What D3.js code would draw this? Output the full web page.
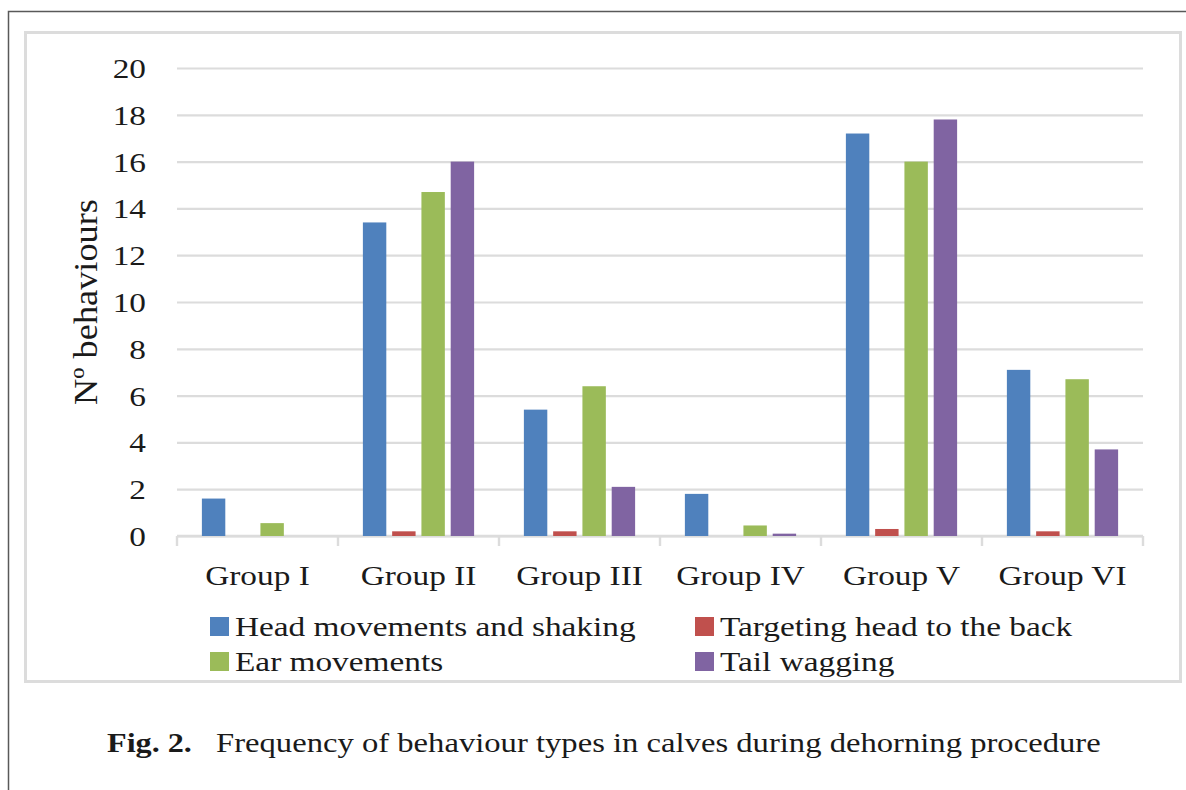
<!DOCTYPE html>
<html>
<head>
<meta charset="utf-8">
<script src="https://cdn.jsdelivr.net/npm/d3@7"></script>
<style>
  html, body { margin: 0; padding: 0; background: #fff; }
  svg { display: block; font-family: "Liberation Serif", "Times New Roman", serif; }
</style>
</head>
<body>
<svg id="chart" width="1186" height="790"></svg>
<script>
// Behaviour counts per calf group during dehorning
const groups = ["Group I", "Group II", "Group III", "Group IV", "Group V", "Group VI"];
const seriesNames = ["Head movements and shaking", "Targeting head to the back", "Ear movements", "Tail wagging"];
const headMovements = [1.6, 13.4, 5.4, 1.8, 17.2, 7.1];
const targetingHead = [0, 0.2, 0.2, 0, 0.3, 0.2];
const earMovements  = [0.55, 14.7, 6.4, 0.45, 16.0, 6.7];
const tailWagging   = [0, 16.0, 2.1, 0.1, 17.8, 3.7];
const yTicks = [0, 2, 4, 6, 8, 10, 12, 14, 16, 18, 20];
const seriesColors = ["#4F81BD", "#C0504D", "#9BBB59", "#8064A2"];
const yTitle = "Nº behaviours";
const captionLead = "Fig. 2.";
const captionText = "Frequency of behaviour types in calves during dehorning procedure";

const seriesValues = [headMovements, targetingHead, earMovements, tailWagging];
const rows = groups.map((g, i) => ({
  group: g,
  values: seriesNames.map((s, j) => ({ key: s, value: seriesValues[j][i] }))
}));

const SX = 1.19;           // horizontal widening of the typeface
const FONT = 28;
const FAMILY = "Liberation Serif";
const INK = "#1a1a1a";
const svg = d3.select("#chart");

// frames
svg.append("path")
  .attr("d", "M8.5,790 V11.5 H1186")
  .attr("fill", "none").attr("stroke", "#595959").attr("stroke-width", 1.5);
svg.append("rect")
  .attr("x", 25.5).attr("y", 32.5).attr("width", 1155).attr("height", 649)
  .attr("fill", "none").attr("stroke", "#dcdcdc").attr("stroke-width", 3);

const plot = { left: 177, right: 1143, top: 68, bottom: 536 };

const x0 = d3.scaleBand().domain(groups).range([plot.left, plot.right]).paddingInner(0).paddingOuter(0);
const x1 = d3.scaleBand().domain(seriesNames).range([0, x0.bandwidth()]).paddingInner(0.2).paddingOuter(0.85);
const y = d3.scaleLinear().domain([0, 20]).range([plot.bottom, plot.top]);
const color = d3.scaleOrdinal().domain(seriesNames).range(seriesColors);

// y axis with gridlines
const yAxis = svg.append("g")
  .attr("transform", `translate(${plot.left},0)`)
  .call(d3.axisLeft(y).tickValues(yTicks).tickSize(-(plot.right - plot.left)).tickFormat(d3.format("d")));
yAxis.select(".domain").remove();
yAxis.selectAll(".tick line").attr("stroke", "#dcdcdc").attr("stroke-width", 2.2);
yAxis.selectAll(".tick text")
  .attr("x", 0).attr("dy", "0.34em")
  .attr("transform", `translate(-31,0) scale(${SX},1)`)
  .attr("font-size", FONT).attr("font-family", FAMILY).attr("fill", INK);

// category axis line and separators
const bounds = groups.map(g => x0(g)).concat([x0(groups[groups.length - 1]) + x0.bandwidth()]);
svg.append("line")
  .attr("x1", plot.left).attr("x2", plot.right).attr("y1", plot.bottom).attr("y2", plot.bottom)
  .attr("stroke", "#dcdcdc").attr("stroke-width", 2.4);
svg.append("g").selectAll("line").data(bounds).join("line")
  .attr("x1", d => d).attr("x2", d => d)
  .attr("y1", plot.bottom).attr("y2", plot.bottom + 10)
  .attr("stroke", "#dcdcdc").attr("stroke-width", 2.4);

const xAxis = svg.append("g")
  .attr("transform", `translate(0,${plot.bottom})`)
  .call(d3.axisBottom(x0).tickSize(0));
xAxis.select(".domain").remove();
xAxis.selectAll(".tick text")
  .attr("y", 0).attr("dy", 0)
  .attr("transform", `translate(0,49) scale(${SX},1)`)
  .attr("font-size", FONT).attr("font-family", FAMILY).attr("fill", INK);

// bars
svg.append("g").selectAll("g").data(rows).join("g")
  .attr("transform", d => `translate(${x0(d.group)},0)`)
  .selectAll("rect").data(d => d.values).join("rect")
  .attr("x", d => x1(d.key))
  .attr("width", x1.bandwidth())
  .attr("y", d => y(d.value))
  .attr("height", d => y(0) - y(d.value))
  .attr("fill", d => color(d.key));

// y title
svg.append("text")
  .attr("transform", `translate(97,302) scale(1.17,1) rotate(-90)`)
  .attr("text-anchor", "middle")
  .attr("font-size", 29).attr("font-family", FAMILY).attr("fill", INK)
  .attr("textLength", 206).attr("lengthAdjust", "spacingAndGlyphs")
  .text(yTitle);

// legend
const legendPos = [
  { x: 210, y: 636 }, { x: 695, y: 636 },
  { x: 210, y: 671 }, { x: 695, y: 671 }
];
const legend = svg.append("g").selectAll("g").data(seriesNames).join("g")
  .attr("transform", (d, i) => `translate(${legendPos[i].x},${legendPos[i].y})`);
legend.append("rect")
  .attr("x", 0).attr("y", -19).attr("width", 19).attr("height", 19)
  .attr("fill", d => color(d));
legend.append("text")
  .attr("transform", `translate(25,0) scale(${SX},1)`)
  .attr("font-size", FONT).attr("font-family", FAMILY).attr("fill", INK)
  .text(d => d);

// caption
svg.append("text")
  .attr("transform", `translate(107,752) scale(1.15,1)`)
  .attr("font-size", FONT).attr("font-family", FAMILY).attr("font-weight", "bold").attr("fill", INK)
  .text(captionLead);
svg.append("text")
  .attr("transform", `translate(216,752) scale(1.166,1)`)
  .attr("font-size", FONT).attr("font-family", FAMILY).attr("fill", INK)
  .text(captionText);
</script>
</body>
</html>
